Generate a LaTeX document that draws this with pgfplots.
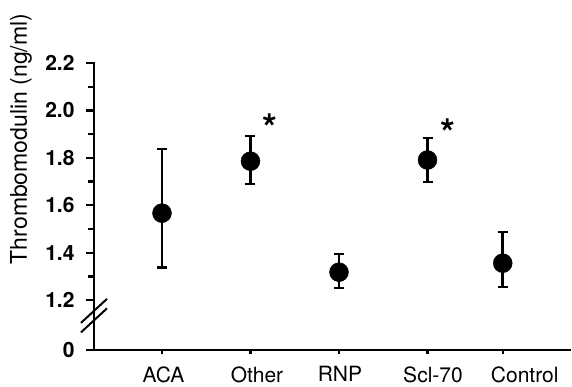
\documentclass[border=0pt]{standalone}
\usepackage{pgfplots}
\pgfplotsset{compat=1.18}
\usepackage{fontspec}
\setmainfont{TeX Gyre Heros}
\begin{document}
\begin{tikzpicture}[x=1pt,y=1pt]
\useasboundingbox (0,0) rectangle (572,387);
\begin{axis}[
  at={(94pt,37pt)}, anchor=south west,
  scale only axis, width=476pt, height=287pt,
  xmin=0.232, xmax=5.61, ymin=0.99, ymax=2.2,
  axis lines*=left,
  axis line style={line width=2.2pt, line cap=rect},
  tick align=outside,
  major tick length=8pt, minor tick length=6pt,
  every tick/.style={line width=2.2pt, black},
  ytick={0.99,1.2,1.4,1.6,1.8,2.0,2.2},
  yticklabels={0,1.2,1.4,1.6,1.8,2.0,2.2},
  minor ytick={1.3,1.5,1.7,1.9,2.1},
  xtick={1,2,3,4,4.85},
  xticklabels={\hspace{3pt}ACA,\hspace{13pt}Other,\hspace{2pt}RNP,\hspace{11pt}Scl-70,\hspace{44pt}Control},
  xtick style={/pgfplots/major tick length=4pt},
  /pgf/number format/assume math mode=true,
  yticklabel style={font=\fontsize{21}{21}\selectfont\bfseries, xshift=-8pt},
  xticklabel style={font=\fontsize{21}{21}\selectfont, yshift=-5pt},
  clip=false,
]
\addplot[only marks, mark=*, mark size=9.5pt, black,
  error bars/.cd, y dir=both, y explicit,
  error bar style={line width=2.6pt, black},
  error mark options={rotate=90, line width=2.6pt, mark size=5pt, black}]
coordinates {
  (1,1.567)    += (0,0.270) -= (0,0.228)
  (2,1.786)    += (0,0.106) -= (0,0.097)
  (3,1.318)    += (0,0.076) -= (0,0.067)
  (4,1.791)    += (0,0.093) -= (0,0.093)
  (4.85,1.356) += (0,0.131) -= (0,0.101)
};
\node[font=\fontsize{38}{38}\selectfont\bfseries] at (axis cs:2.22,1.928) {*};
\node[font=\fontsize{38}{38}\selectfont\bfseries] at (axis cs:4.232,1.907) {*};
\draw[line width=2pt] ([xshift=-13pt,yshift=-12pt]axis cs:0.232,1.155) -- ([xshift=13pt,yshift=12pt]axis cs:0.232,1.155);
\draw[line width=2pt] ([xshift=-13pt,yshift=-12pt]axis cs:0.232,1.115) -- ([xshift=13pt,yshift=12pt]axis cs:0.232,1.115);
\end{axis}
\node[rotate=90, font=\fontsize{23}{23}\selectfont] at (21,248) {Thrombomodulin (ng/ml)};
\end{tikzpicture}
\end{document}
